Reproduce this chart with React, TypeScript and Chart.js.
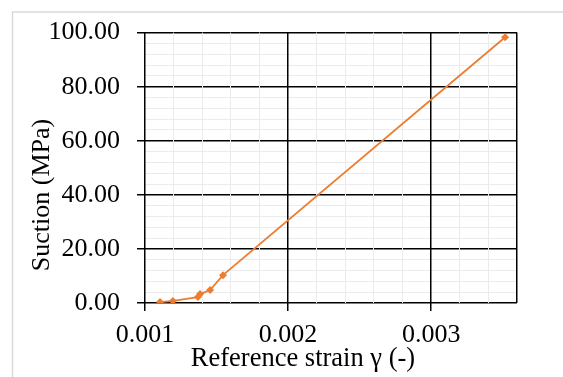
import React, { useEffect, useRef } from "react";
import { Chart, registerables } from "chart.js";

Chart.register(...registerables);

const strain = [0.001105, 0.001195, 0.00137, 0.001385, 0.001455, 0.001545, 0.003517];
const suction = [0.36, 0.75, 2.2, 3.3, 4.8, 10.3, 98.3];

const xTitle = "Reference strain γ (-)";
const yTitle = "Suction (MPa)";

const FONT = "'Times New Roman', 'Liberation Serif', serif";

const isMajorX = (v: number) => Math.abs(v * 1000 - Math.round(v * 1000)) < 1e-6;
const isMajorY = (v: number) => Math.abs(v / 20 - Math.round(v / 20)) < 1e-6;

export default function App() {
  const ref = useRef<HTMLCanvasElement>(null);

  useEffect(() => {
    if (!ref.current) return;
    const framePlugin = {
      id: "frame",
      beforeDraw(chart: any) {
        const ctx = chart.ctx;
        ctx.save();
        ctx.strokeStyle = "#d9d9d9";
        ctx.lineWidth = 1.5;
        ctx.beginPath();
        ctx.moveTo(12.5, 377);
        ctx.lineTo(12.5, 12);
        ctx.lineTo(563, 12);
        ctx.stroke();
        ctx.restore();
      },
      afterDraw(chart: any) {
        const ctx = chart.ctx;
        ctx.save();
        ctx.fillStyle = "#000";
        ctx.font = `26.5px ${FONT}`;
        ctx.textAlign = "center";
        ctx.textBaseline = "middle";
        ctx.fillText(xTitle, 303, 359);
        ctx.font = `26px ${FONT}`;
        ctx.translate(42, 195);
        ctx.rotate(-Math.PI / 2);
        ctx.fillText(yTitle, 0, 0);
        ctx.restore();
      },
    };

    const chart = new Chart(ref.current, {
      type: "scatter",
      data: {
        datasets: [
          {
            data: strain.map((x, i) => ({ x, y: suction[i] })),
            showLine: true,
            borderColor: "#ED7D31",
            backgroundColor: "#ED7D31",
            borderWidth: 1.8,
            pointStyle: "rectRot",
            pointRadius: 4,
            pointBorderWidth: 0,
            tension: 0,
          },
        ],
      },
      options: {
        responsive: false,
        animation: false,
        layout: { padding: { left: 0, top: 26, right: 46, bottom: 0 } },
        plugins: { legend: { display: false }, tooltip: { enabled: false } },
        scales: {
          y: {
            type: "linear",
            min: 0,
            max: 100,
            afterFit: (s: any) => {
              s.width = 145;
            },
            border: { display: false },
            grid: {
              color: (c: any) => (isMajorY(c.tick.value) ? "#000" : "#ebebeb"),
              lineWidth: (c: any) => (isMajorY(c.tick.value) ? 1.5 : 1),
              tickColor: (c: any) => (isMajorY(c.tick.value) ? "#000" : "rgba(0,0,0,0)"),
              tickLength: 8,
            },
            ticks: {
              stepSize: 4,
              autoSkip: false,
              padding: 17,
              color: "#000",
              font: { family: FONT, size: 26 },
              callback: (v: any) => (isMajorY(Number(v)) ? Number(v).toFixed(2) : ""),
            },
          },
          x: {
            type: "linear",
            min: 0.001,
            max: 0.0036,
            afterFit: (s: any) => {
              s.height = 74;
            },
            border: { display: false },
            grid: {
              color: (c: any) =>
                isMajorX(c.tick.value) || Math.abs(c.tick.value - 0.0036) < 1e-9 ? "#000" : "#ebebeb",
              lineWidth: (c: any) =>
                isMajorX(c.tick.value) || Math.abs(c.tick.value - 0.0036) < 1e-9 ? 1.5 : 1,
              tickColor: (c: any) => (isMajorX(c.tick.value) ? "#000" : "rgba(0,0,0,0)"),
              tickLength: 8,
            },
            ticks: {
              stepSize: 0.0002,
              autoSkip: false,
              maxRotation: 0,
              padding: 9,
              color: "#000",
              font: { family: FONT, size: 26 },
              callback: (v: any) => (isMajorX(Number(v)) ? Number(v).toFixed(3) : ""),
            },
          },
        },
      },
      plugins: [framePlugin],
    });
    return () => chart.destroy();
  }, []);

  return (
    <div style={{ position: "fixed", left: 0, top: 0, width: 563, height: 377, background: "#fff" }}>
      <canvas ref={ref} width={563} height={377} style={{ display: "block" }} />
    </div>
  );
}
